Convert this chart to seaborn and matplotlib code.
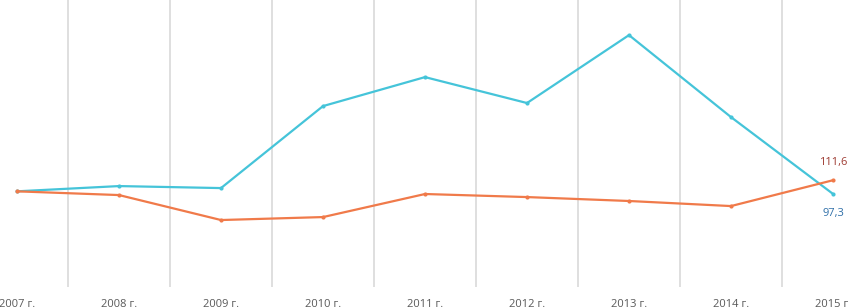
import matplotlib
matplotlib.use("Agg")
import matplotlib.pyplot as plt
import seaborn as sns
import pandas as pd
import numpy as np

years = ["2007 г.", "2008 г.", "2009 г.", "2010 г.", "2011 г.",
         "2012 г.", "2013 г.", "2014 г.", "2015 г."]
blue_vals = [100.0, 105.5, 103.4, 189.1, 219.4, 192.3, 263.3, 177.6, 97.3]
orange_vals = [100.0, 96.1, 70.0, 73.1, 97.2, 94.0, 89.9, 84.6, 111.6]

blue_color = "#45C4D9"
orange_color = "#F07A4A"

sns.set_style("white")
plt.rcParams['font.family'] = ['Open Sans', 'DejaVu Sans']

df = pd.DataFrame({
    "x": list(range(len(years))) * 2,
    "value": blue_vals + orange_vals,
    "series": ["blue"] * len(years) + ["orange"] * len(years),
})

fig = plt.figure(figsize=(8.49, 3.08), dpi=100)
# axes wider than the figure, like the cropped original
ax = fig.add_axes([-34 / 849, 21 / 308, 918 / 849, 287 / 308])

sns.lineplot(data=df, x="x", y="value", hue="series",
             palette={"blue": blue_color, "orange": orange_color},
             marker="o", markersize=3, markeredgewidth=0,
             linewidth=1.6, legend=False, ax=ax)

ax.set_xlim(-0.5, len(years) - 0.5)
ax.set_ylim(0, 300)
ax.set_xticks(range(len(years)))
ax.set_xticklabels(years, fontsize=8, color="#595959")
ax.set_xticks(np.arange(0.5, len(years) - 1, 1), minor=True)
ax.grid(which="minor", axis="x", color="#d9d9d9", linewidth=1.2)
ax.grid(which="major", visible=False)
ax.tick_params(axis="x", which="both", length=0, pad=8.5)
ax.set_yticks([])
ax.set_xlabel("")
ax.set_ylabel("")
for s in ax.spines.values():
    s.set_visible(False)

last = len(years) - 1
ax.annotate("111,6", (last, orange_vals[-1]), xytext=(0, 13),
            textcoords="offset points", ha="center", va="center",
            fontsize=8, color="#9E3B32")
ax.annotate("97,3", (last, blue_vals[-1]), xytext=(0, -14),
            textcoords="offset points", ha="center", va="center",
            fontsize=8, color="#2F6FA8")

fig.savefig("out.png", dpi=100)
